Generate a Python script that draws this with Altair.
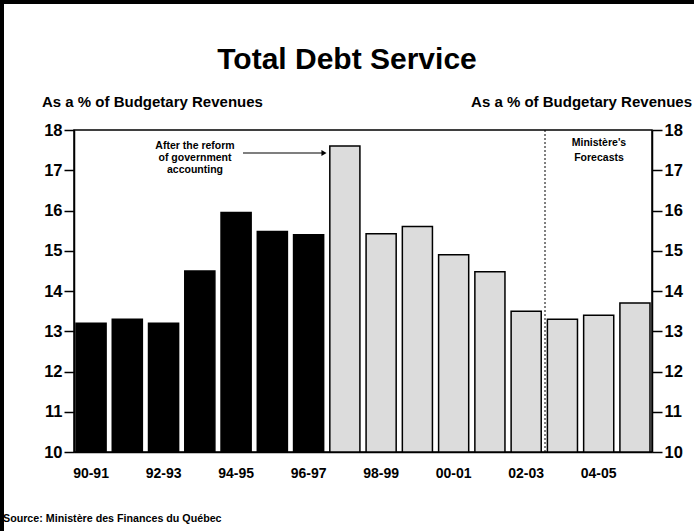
import altair as alt
import pandas as pd

years = ["90-91", "91-92", "92-93", "93-94", "94-95", "95-96", "96-97", "97-98",
         "98-99", "99-00", "00-01", "01-02", "02-03", "03-04", "04-05", "05-06"]
values = [13.2, 13.3, 13.2, 14.5, 15.95, 15.48, 15.4, 17.6,
          15.42, 15.6, 14.9, 14.48, 13.5, 13.3, 13.4, 13.7]
groups = ["Before reform"] * 7 + ["After reform"] * 9
shown_labels = ["90-91", "92-93", "94-95", "96-97", "98-99", "00-01", "02-03", "04-05"]
y_ticks = [10, 11, 12, 13, 14, 15, 16, 17, 18]

title_text = "Total Debt Service"
axis_title_text = "As a % of Budgetary Revenues"
source_text = "Source: Ministère des Finances du Québec"
reform_note = ["After the reform", "of government", "accounting"]
forecast_note = ["Ministère's", "Forecasts"]

df = pd.DataFrame({"year": years, "value": values, "group": groups})

FONT = "Liberation Sans"
W, H = 578, 322

x_enc = alt.X("year:N", sort=years,
              scale=alt.Scale(paddingInner=0.17, paddingOuter=0.055),
              axis=alt.Axis(values=shown_labels, title=None, ticks=False, labelAngle=0,
                            labelFont=FONT, labelFontSize=14, labelFontWeight="bold",
                            labelColor="black", labelPadding=14,
                            domainColor="black", domainWidth=1.5))
y_scale = alt.Scale(domain=[10, 18], nice=False, zero=False)

def yaxis(orient):
    return alt.Axis(orient=orient, values=y_ticks, title=None, grid=False,
                    labelFont=FONT, labelFontSize=16.5, labelFontWeight="bold",
                    labelColor="black", labelPadding=2, tickSize=10,
                    tickColor="black", tickWidth=1.5,
                    domainColor="black", domainWidth=1.5)

base = alt.Chart(df)

bars = base.mark_bar(stroke="black", strokeWidth=1.5).encode(
    x=x_enc,
    y=alt.Y("value:Q", scale=y_scale, axis=yaxis("left")),
    y2=alt.datum(10),
    fill=alt.Fill("group:N", scale=alt.Scale(domain=["Before reform", "After reform"],
                                            range=["#000000", "#dcdcdc"]), legend=None),
)

right_axis = base.mark_bar(opacity=0).encode(
    x=x_enc,
    y=alt.Y("value:Q", scale=y_scale, axis=yaxis("right")),
)

one = alt.Chart(pd.DataFrame({"a": [0]}))

def txt(text, x, y, size, align="center", font=FONT):
    return one.mark_text(text=text, font=font, fontSize=size, fontWeight="bold",
                         color="black", align=align, baseline="alphabetic").encode(
        x=alt.value(x), y=alt.value(y))

texts = [
    txt(title_text, 273, -61, 30),
    txt(axis_title_text, -32, -23, 15, "left"),
    txt(axis_title_text, 618, -23, 15, "right"),
    txt(source_text, -71, 392, 10.7, "left"),
]
for i, line in enumerate(reform_note):
    texts.append(txt(line, 121, 19 + 12 * i, 10.5))
for i, line in enumerate(forecast_note):
    texts.append(txt(line, 525, 16 + 14.5 * i, 10.5))

arrow_line = one.mark_rule(color="black", strokeWidth=1.2).encode(
    x=alt.value(169), x2=alt.value(250), y=alt.value(23))
arrow_head = one.mark_point(shape="triangle-right", filled=True, color="black",
                            size=35, opacity=1).encode(x=alt.value(250), y=alt.value(23))
forecast_line = one.mark_rule(color="black", strokeWidth=1, strokeDash=[2, 2]).encode(
    x=alt.value(471), y=alt.value(0), y2=alt.value(H))

border_top = one.mark_rule(color="black", strokeWidth=4).encode(
    x=alt.value(-74), x2=alt.value(W + 42), y=alt.value(-128))
border_left = one.mark_rule(color="black", strokeWidth=4).encode(
    x=alt.value(-72), y=alt.value(-130), y2=alt.value(H + 79))

chart = alt.layer(
    bars, right_axis, forecast_line, arrow_line, arrow_head, *texts, border_top, border_left
).resolve_scale(y="shared").resolve_axis(y="independent").properties(
    width=W, height=H,
    autosize=alt.AutoSizeParams(type="none"),
    padding={"left": 74, "top": 130, "right": 42, "bottom": 79},
    background="white",
).configure_view(stroke="black", strokeWidth=1.5)

chart.save("out.html", embed_options={"renderer": "svg", "actions": False})
